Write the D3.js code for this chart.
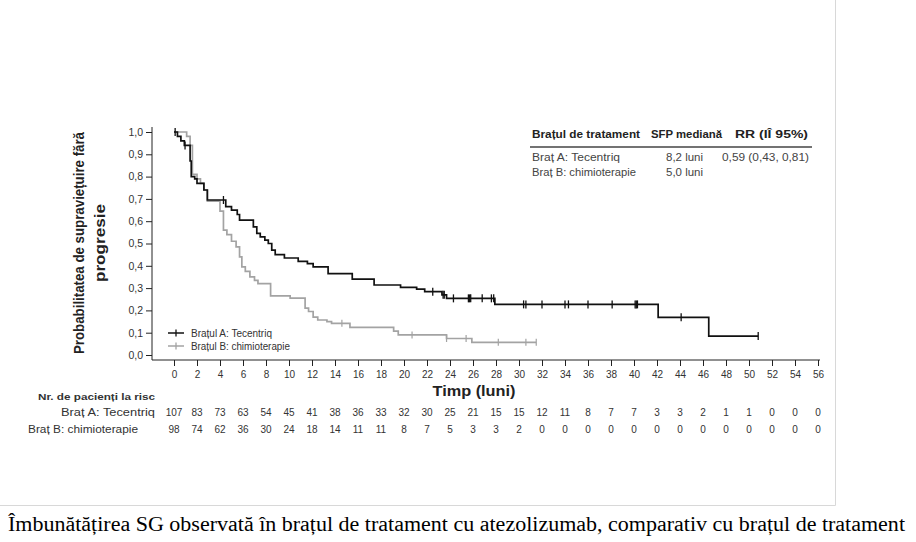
<!DOCTYPE html>
<html><head><meta charset="utf-8">
<script src="https://cdn.jsdelivr.net/npm/d3@7"></script>
<style>html,body{margin:0;padding:0;background:#fff;}svg{display:block;}</style>
</head><body>
<svg id="c" width="916" height="542"></svg>
<script>
// ---- data ----
const armA_steps = [[0,1.0],[0.3,0.98],[0.6,0.96],[0.9,0.94],[1.4,0.87],[1.5,0.80],[1.8,0.79],[2.0,0.77],[2.6,0.74],[2.9,0.695],[4.5,0.665],[5.0,0.65],[5.5,0.63],[5.7,0.605],[6.9,0.575],[7.2,0.545],[7.5,0.53],[7.9,0.515],[8.2,0.50],[8.5,0.47],[8.8,0.45],[9.6,0.435],[10.8,0.42],[11.6,0.41],[12.1,0.395],[13.4,0.365],[15.5,0.34],[17.4,0.314],[19.7,0.303],[21.1,0.295],[21.8,0.284],[23.3,0.27],[23.7,0.254],[27.9,0.227],[42.1,0.169],[46.5,0.085]];
const armA_end = 50.8;
const armA_censor = [0.1,0.96,4.3,22.5,23.4,23.5,24.3,25.6,25.7,25.8,26.8,27.6,27.8,30.4,30.6,32.0,34.0,34.3,36.0,38.1,40.1,40.2,40.3,44.1,50.8];
const armB_steps = [[0,1.0],[1.1,0.98],[1.4,0.94],[1.6,0.81],[2.0,0.79],[2.3,0.77],[2.6,0.74],[2.9,0.69],[4.0,0.645],[4.3,0.56],[4.6,0.54],[5.0,0.51],[5.4,0.485],[5.7,0.44],[5.9,0.395],[6.2,0.375],[6.6,0.35],[7.0,0.335],[7.3,0.32],[8.4,0.265],[10.1,0.255],[11.4,0.21],[11.7,0.195],[12.1,0.17],[12.5,0.157],[13.3,0.15],[13.7,0.142],[15.3,0.124],[19.1,0.107],[19.5,0.09],[23.7,0.074],[25.9,0.057]];
const armB_end = 31.5;
const armB_censor = [14.6,20.7,23.7,25.4,28.2,30.6,31.5];
const xTicks = d3.range(0,57,2);
const yTicks = [0,0.1,0.2,0.3,0.4,0.5,0.6,0.7,0.8,0.9,1.0];
const riskA = [107,83,73,63,54,45,41,38,36,33,32,30,25,21,15,15,12,11,8,7,7,3,3,2,1,1,0,0,0];
const riskB = [98,74,62,36,30,24,18,14,11,11,8,7,5,3,3,2,0,0,0,0,0,0,0,0,0,0,0,0,0];
const armLabels = ["Braț A: Tecentriq","Braț B: chimioterapie"];
const legendLabels = ["Brațul A: Tecentriq","Brațul B: chimioterapie"];
const tableHeader = ["Brațul de tratament","SFP mediană","RR (IÎ 95%)"];
const tableRows = [["Braț A: Tecentriq","8,2 luni","0,59 (0,43, 0,81)"],["Braț B: chimioterapie","5,0 luni",""]];
const yTitle = ["Probabilitatea de supraviețuire fără","progresie"];
const xTitle = "Timp (luni)";
const riskTitle = "Nr. de pacienți la risc";
const caption1 = "Îmbunătățirea SG observată în brațul de tratament cu atezolizumab, comparativ cu brațul de tratament";
const caption2 = "cu chimioterapie, a fost consecventă la toate subgrupurile de pacienți, inclusiv la cei cu alte caracteristici";

// ---- drawing ----
const svg = d3.select("#c");
const F = "'Liberation Sans', Arial, sans-serif";
const x = d3.scaleLinear().domain([0,56]).range([174,818]);
const y = d3.scaleLinear().domain([0,1]).range([355,132]);
const colA = "#111", colB = "#a3a3a3";

function txt(str, px, py, o){
  o = o||{};
  const t = svg.append("text").attr("x",px).attr("y",py)
    .attr("font-family",F).attr("font-size",o.size||10).attr("fill",o.fill||"#333")
    .attr("font-weight",o.bold?"bold":"normal").attr("text-anchor",o.anchor||"start").text(str);
  if(o.len) t.attr("textLength",o.len).attr("lengthAdjust","spacingAndGlyphs");
  return t;
}

// page border
svg.append("path").attr("d","M835.5,0V505.5H0").attr("fill","none").attr("stroke","#d8d8d8").attr("stroke-width",1);

// axes
const yAx = svg.append("g").attr("transform","translate(152,0)")
  .call(d3.axisLeft(y).tickValues(yTicks).tickSize(6).tickPadding(3).tickFormat(d=>d3.format(".1f")(d).replace(".",",")));
yAx.select(".domain").attr("d","M0,127V360").attr("stroke","#222");
yAx.selectAll(".tick line").attr("stroke","#222");
yAx.selectAll("text").attr("font-family",F).attr("font-size",10.5).attr("fill","#333");

const xAx = svg.append("g").attr("transform","translate(0,360)")
  .call(d3.axisBottom(x).tickValues(xTicks).tickSize(6).tickPadding(5));
xAx.select(".domain").attr("d","M152,0H820").attr("stroke","#222");
xAx.selectAll(".tick line").attr("stroke","#222");
xAx.selectAll("text").attr("font-family",F).attr("font-size",10).attr("fill","#333");

// titles
svg.append("text").attr("transform","translate(84,243) rotate(-90)").attr("text-anchor","middle")
  .attr("font-family",F).attr("font-weight","bold").attr("font-size",14).attr("fill","#222")
  .attr("textLength",222).attr("lengthAdjust","spacingAndGlyphs").text(yTitle[0]);
svg.append("text").attr("transform","translate(105,243) rotate(-90)").attr("text-anchor","middle")
  .attr("font-family",F).attr("font-weight","bold").attr("font-size",14).attr("fill","#222")
  .attr("textLength",78).attr("lengthAdjust","spacingAndGlyphs").text(yTitle[1]);
txt(xTitle,474,396,{anchor:"middle",bold:true,size:14,fill:"#222",len:83});

// curves
function stepPath(steps,end){
  const pts=[];
  steps.forEach((s,i)=>{
    if(i>0) pts.push([s[0],steps[i-1][1]]);
    pts.push(s);
  });
  pts.push([end,steps[steps.length-1][1]]);
  return d3.line().x(d=>x(d[0])).y(d=>y(d[1]))(pts);
}
function survAt(steps,t){let v=steps[0][1];steps.forEach(s=>{if(s[0]<=t)v=s[1];});return v;}
svg.append("path").attr("d",stepPath(armB_steps,armB_end)).attr("fill","none").attr("stroke",colB).attr("stroke-width",1.7);
svg.append("path").attr("d",stepPath(armA_steps,armA_end)).attr("fill","none").attr("stroke",colA).attr("stroke-width",1.7);
svg.append("g").selectAll("line").data(armB_censor).join("line")
  .attr("x1",d=>x(d)).attr("x2",d=>x(d)).attr("y1",d=>y(survAt(armB_steps,d))-3.5).attr("y2",d=>y(survAt(armB_steps,d))+3.5)
  .attr("stroke",colB).attr("stroke-width",1.2);
svg.append("g").selectAll("line").data(armA_censor).join("line")
  .attr("x1",d=>x(d)).attr("x2",d=>x(d)).attr("y1",d=>y(survAt(armA_steps,d))-4).attr("y2",d=>y(survAt(armA_steps,d))+4)
  .attr("stroke",colA).attr("stroke-width",1.3);

// legend
const legLen=[81,99];
[[colA,333],[colB,346]].forEach((c,i)=>{
  svg.append("line").attr("x1",168).attr("x2",184).attr("y1",c[1]).attr("y2",c[1]).attr("stroke",c[0]).attr("stroke-width",1.5);
  svg.append("line").attr("x1",176).attr("x2",176).attr("y1",c[1]-3.5).attr("y2",c[1]+3.5).attr("stroke",c[0]).attr("stroke-width",1.3);
  txt(legendLabels[i],191,c[1]+3.5,{size:10,len:legLen[i]});
});

// table top right
const hx=[532,651,735], hl=[108,71,73];
tableHeader.forEach((h,i)=>txt(h,hx[i],138,{bold:true,size:10,fill:"#222",len:hl[i]}));
svg.append("line").attr("x1",530).attr("x2",812).attr("y1",147).attr("y2",147).attr("stroke","#444").attr("stroke-width",1.5);
const rx=[532,666,722];
const rl=[[88,37,87],[104,37,0]];
tableRows.forEach((r,j)=>r.forEach((c,i)=>{ if(c) txt(c,rx[i],161+j*15,{size:10,fill:"#444",len:rl[j][i]}); }));

// risk table
txt(riskTitle,38,400,{bold:true,size:9.5,len:117});
const lx=[61,28], ll=[94,110];
[riskA,riskB].forEach((row,j)=>{
  const yy=416+j*17;
  txt(armLabels[j],lx[j],yy,{size:10,len:ll[j]});
  svg.append("g").selectAll("text").data(row).join("text")
    .attr("x",(d,i)=>x(xTicks[i])).attr("y",yy).attr("text-anchor","middle")
    .attr("font-family",F).attr("font-size",10).attr("fill","#333").text(d=>d);
});

// caption
svg.append("text").attr("x",8).attr("y",531).attr("font-family","'Liberation Serif','Times New Roman',serif").attr("font-size",20).attr("fill","#000")
  .attr("textLength",897).attr("lengthAdjust","spacingAndGlyphs").text(caption1);
svg.append("text").attr("x",8).attr("y",557).attr("font-family","'Liberation Serif','Times New Roman',serif").attr("font-size",20).attr("fill","#000")
  .attr("textLength",897).attr("lengthAdjust","spacingAndGlyphs").text(caption2);
</script>
</body></html>
